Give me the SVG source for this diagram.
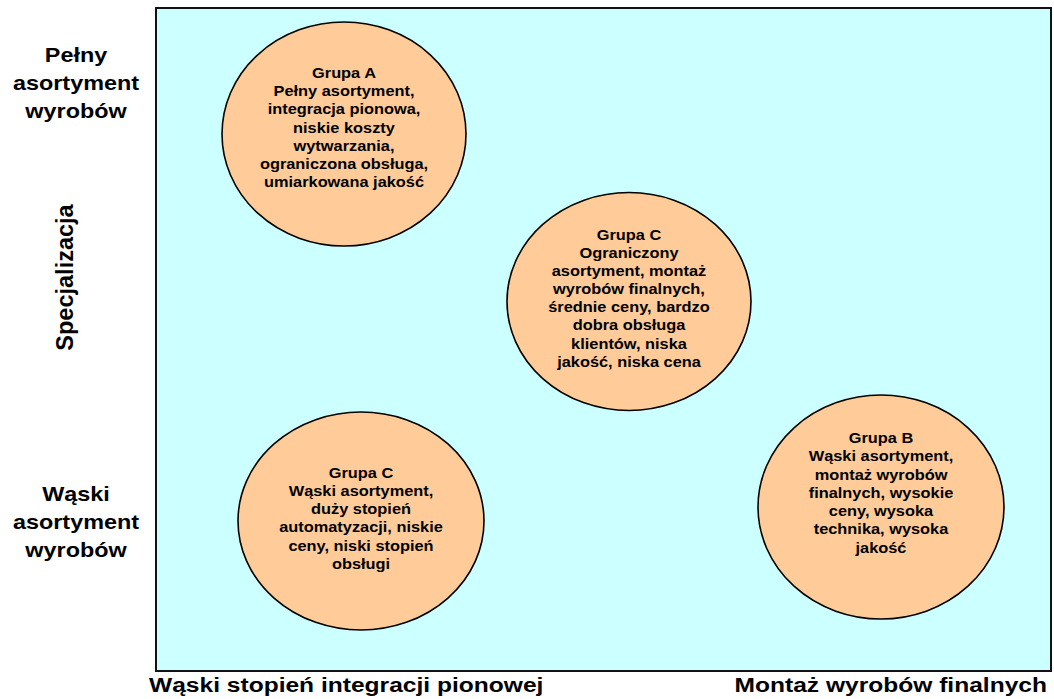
<svg xmlns="http://www.w3.org/2000/svg" width="1054" height="699" viewBox="0 0 1054 699">
<style>
text{font-family:"Liberation Sans",Arial,sans-serif;font-weight:bold;fill:#000}
.n{font-size:14px;text-anchor:middle}
.lab{font-size:20px;text-anchor:middle}
.ax{font-size:21px}
.node ellipse{fill:#FFCC99;stroke:#000;stroke-width:1.6}
</style>
<rect id="plane" x="156" y="8" width="895" height="663" fill="#CCFFFF" stroke="#111" stroke-width="2"/>
<g id="connectors"/>
<g id="labels">
<text class="lab" transform="translate(76,62) scale(1.17,1)"><tspan x="0">Pełny</tspan><tspan x="0" dy="28">asortyment</tspan><tspan x="0" dy="28">wyrobów</tspan></text>
<text class="lab" transform="translate(76,501) scale(1.17,1)"><tspan x="0">Wąski</tspan><tspan x="0" dy="28">asortyment</tspan><tspan x="0" dy="28">wyrobów</tspan></text>
<text transform="translate(73,277.5) rotate(-90)" style="font-size:23.5px;text-anchor:middle">Specjalizacja</text>
<text class="ax" transform="translate(149,692) scale(1.17,1)">Wąski stopień integracji pionowej</text>
<text class="ax" transform="translate(1047,692) scale(1.17,1)" style="text-anchor:end">Montaż wyrobów finalnych</text>
</g>
<g id="grupaA" class="node">
<ellipse cx="344" cy="134" rx="122" ry="112"/>
<text class="n" transform="translate(344,77.7) scale(1.17,1)"><tspan x="0">Grupa A</tspan><tspan x="0" dy="18.3">Pełny asortyment,</tspan><tspan x="0" dy="18.3">integracja pionowa,</tspan><tspan x="0" dy="18.3">niskie koszty</tspan><tspan x="0" dy="18.3">wytwarzania,</tspan><tspan x="0" dy="18.3">ograniczona obsługa,</tspan><tspan x="0" dy="18.3">umiarkowana jakość</tspan></text>
</g>
<g id="grupaC1" class="node">
<ellipse cx="629" cy="301.5" rx="122" ry="109"/>
<text class="n" transform="translate(629,240) scale(1.17,1)"><tspan x="0">Grupa C</tspan><tspan x="0" dy="18.1">Ograniczony</tspan><tspan x="0" dy="18.1">asortyment, montaż</tspan><tspan x="0" dy="18.1">wyrobów finalnych,</tspan><tspan x="0" dy="18.1">średnie ceny, bardzo</tspan><tspan x="0" dy="18.1">dobra obsługa</tspan><tspan x="0" dy="18.1">klientów, niska</tspan><tspan x="0" dy="18.1">jakość, niska cena</tspan></text>
</g>
<g id="grupaC2" class="node">
<ellipse cx="361" cy="521" rx="123" ry="109"/>
<text class="n" transform="translate(361,477.5) scale(1.17,1)"><tspan x="0">Grupa C</tspan><tspan x="0" dy="18.3">Wąski asortyment,</tspan><tspan x="0" dy="18.3">duży stopień</tspan><tspan x="0" dy="18.3">automatyzacji, niskie</tspan><tspan x="0" dy="18.3">ceny, niski stopień</tspan><tspan x="0" dy="18.3">obsługi</tspan></text>
</g>
<g id="grupaB" class="node">
<ellipse cx="881" cy="507" rx="123" ry="112"/>
<text class="n" transform="translate(881,443) scale(1.17,1)"><tspan x="0">Grupa B</tspan><tspan x="0" dy="18.3">Wąski asortyment,</tspan><tspan x="0" dy="18.3">montaż wyrobów</tspan><tspan x="0" dy="18.3">finalnych, wysokie</tspan><tspan x="0" dy="18.3">ceny, wysoka</tspan><tspan x="0" dy="18.3">technika, wysoka</tspan><tspan x="0" dy="18.3">jakość</tspan></text>
</g>
</svg>
